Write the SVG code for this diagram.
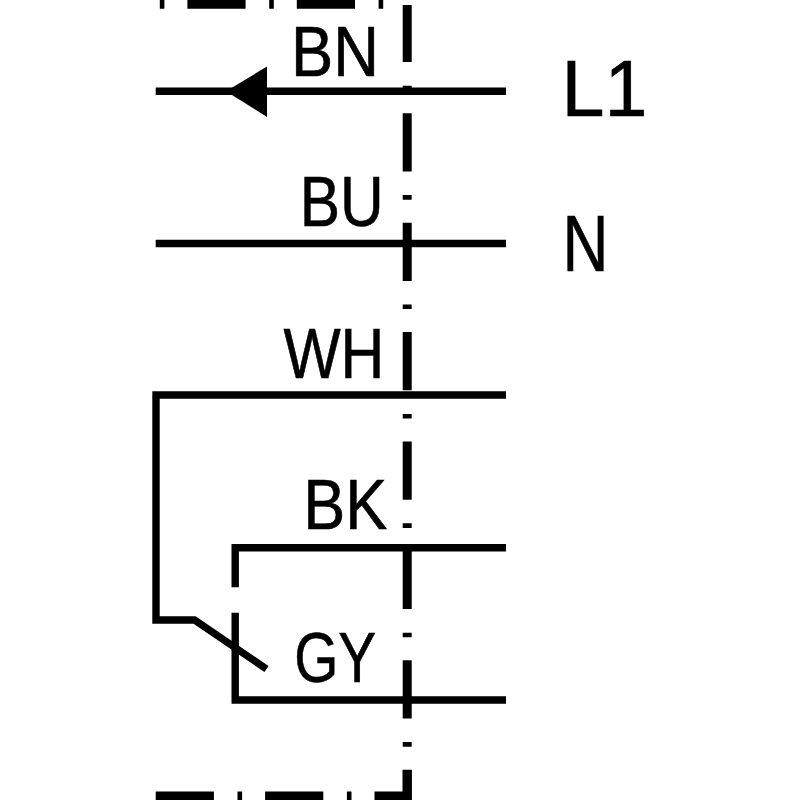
<svg xmlns="http://www.w3.org/2000/svg" width="800" height="800" viewBox="0 0 800 800">
<style>
.w{fill:none;stroke:#000;stroke-width:7.400;stroke-linejoin:miter}
.b{fill:none;stroke:#000;stroke-width:9}
.v{stroke-dasharray:58.200 23.600 4.600 23}
.h{stroke-dasharray:4.600 23 58.200 23.600}
text{font-family:"Liberation Sans",Arial,sans-serif;fill:#000;font-size:69.500px;stroke:#000;stroke-width:.6px}
.t{font-size:79px}
</style>
<rect width="800" height="800" fill="#fff"/>
<g id="boundary">
<path class="b v" d="M407.200 5V800" stroke-dashoffset="1.100"/>
<path class="b h" d="M159.800 4.200H383.500"/>
<path class="b v" d="M155.700 796H375"/>
<path class="b" d="M375 796H411.700M407.200 770V800"/>
</g>
<g id="connectors">
<path class="w" d="M155.700 91.300H506"/>
<path d="M226 91.300L267 66.500V116.900Z" fill="#000"/>
<path class="w" d="M155.700 243.500H506"/>
<path class="w" d="M506 395H156V620H194.500L266.500 669"/>
<path class="w" d="M506 547.700H235.200V587.300"/>
<path class="w" d="M235.200 612.700V700H506"/>
</g>
<g id="label-BN"><text x="291" y="76" textLength="88" lengthAdjust="spacingAndGlyphs">BN</text></g>
<g id="label-BU"><text x="299.700" y="226" textLength="84" lengthAdjust="spacingAndGlyphs">BU</text></g>
<g id="label-WH"><text x="283.400" y="377.500" textLength="101" lengthAdjust="spacingAndGlyphs">WH</text></g>
<g id="label-BK"><text x="303.200" y="529" textLength="84" lengthAdjust="spacingAndGlyphs">BK</text></g>
<g id="label-GY"><text x="294.200" y="682" textLength="82" lengthAdjust="spacingAndGlyphs">GY</text></g>
<g id="label-L1"><text class="t" x="561.600" y="116" textLength="86" lengthAdjust="spacingAndGlyphs">L1</text></g>
<g id="label-N"><text class="t" x="562.500" y="271" textLength="46" lengthAdjust="spacingAndGlyphs">N</text></g>
</svg>
